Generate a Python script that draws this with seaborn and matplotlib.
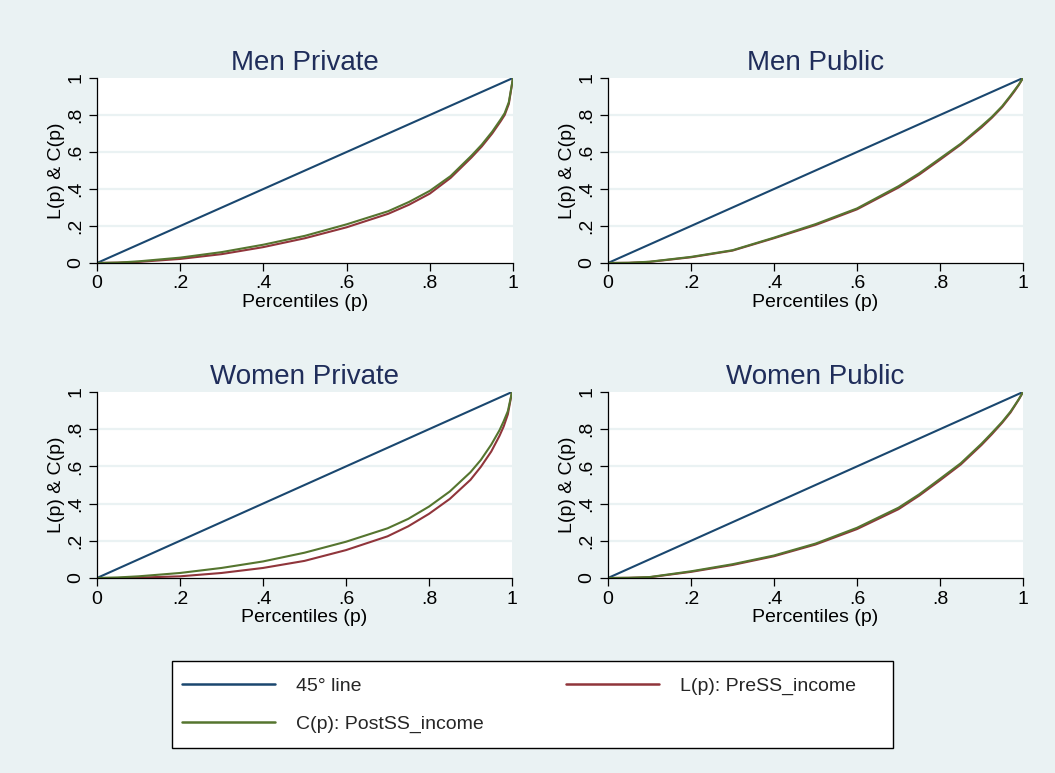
import numpy as np
import pandas as pd
import seaborn as sns
import matplotlib
matplotlib.use("Agg")
import matplotlib.pyplot as plt
from matplotlib.lines import Line2D
from matplotlib.patches import Rectangle

# Percentile grid shared by every curve
pct = [0, 0.05, 0.1, 0.2, 0.3, 0.4, 0.5, 0.6, 0.7, 0.75, 0.8, 0.85, 0.9, 0.925, 0.95, 0.97, 0.98, 0.99, 1.0]

# Lorenz curve of pre-social-security income, L(p)
men_private_pre = [0, 0.002, 0.006, 0.022, 0.048, 0.086, 0.134, 0.193, 0.266, 0.315, 0.375, 0.46, 0.57, 0.63, 0.70, 0.765, 0.80, 0.86, 1.0]
men_public_pre = [0, 0.001, 0.006, 0.031, 0.067, 0.134, 0.205, 0.29, 0.408, 0.478, 0.558, 0.64, 0.733, 0.785, 0.843, 0.90, 0.93, 0.963, 1.0]
women_private_pre = [0, 0.0, 0.002, 0.009, 0.027, 0.054, 0.092, 0.150, 0.224, 0.278, 0.345, 0.425, 0.528, 0.598, 0.68, 0.765, 0.815, 0.88, 1.0]
women_public_pre = [0, 0.001, 0.004, 0.033, 0.07, 0.117, 0.18, 0.263, 0.37, 0.443, 0.525, 0.61, 0.715, 0.773, 0.835, 0.89, 0.925, 0.96, 1.0]

# Concentration curve of post-social-security income, C(p)
men_private_post = [0, 0.002, 0.009, 0.029, 0.059, 0.099, 0.147, 0.209, 0.28, 0.33, 0.39, 0.47, 0.58, 0.64, 0.71, 0.775, 0.81, 0.87, 1.0]
men_public_post = [0, 0.001, 0.007, 0.033, 0.069, 0.137, 0.21, 0.295, 0.415, 0.485, 0.565, 0.645, 0.74, 0.79, 0.848, 0.905, 0.935, 0.965, 1.0]
women_private_post = [0, 0.003, 0.009, 0.027, 0.054, 0.089, 0.136, 0.195, 0.267, 0.318, 0.384, 0.465, 0.569, 0.635, 0.717, 0.795, 0.843, 0.897, 1.0]
women_public_post = [0, 0.001, 0.005, 0.036, 0.074, 0.121, 0.185, 0.27, 0.378, 0.45, 0.533, 0.617, 0.722, 0.78, 0.84, 0.895, 0.928, 0.962, 1.0]

# Equality line
diag_p = [0.0, 1.0]
diag_v = [0.0, 1.0]

panels = ["Men Private", "Men Public", "Women Private", "Women Public"]
pre_series = [men_private_pre, men_public_pre, women_private_pre, women_public_pre]
post_series = [men_private_post, men_public_post, women_private_post, women_public_post]

series_names = ["45° line", "L(p): PreSS_income", "C(p): PostSS_income"]
colors = {"45° line": "#1a476f", "L(p): PreSS_income": "#90353b", "C(p): PostSS_income": "#55752f"}

tick_vals = [0, 0.2, 0.4, 0.6, 0.8, 1.0]
tick_labels = ["0", ".2", ".4", ".6", ".8", "1"]

rows = []
for name, pre, post in zip(panels, pre_series, post_series):
    for p, v in zip(diag_p, diag_v):
        rows.append((name, series_names[0], p, v))
    for p, v in zip(pct, pre):
        rows.append((name, series_names[1], p, v))
    for p, v in zip(pct, post):
        rows.append((name, series_names[2], p, v))
df = pd.DataFrame(rows, columns=["panel", "series", "p", "value"])

sns.set_theme(style="white")
plt.rcParams["font.family"] = ["Liberation Sans", "DejaVu Sans"]

bg = "#eaf2f3"
W, H = 1055, 773
fig = plt.figure(figsize=(W / 100, H / 100), dpi=100, facecolor=bg)

# axes boxes in pixels: left, top, right, bottom
boxes = [(97, 78, 513, 263), (608, 78, 1023, 263),
         (97, 392, 512, 578), (608, 392, 1023, 578)]

for name, (l, t, r, b) in zip(panels, boxes):
    ax = fig.add_axes([l / W, 1 - b / H, (r - l) / W, (b - t) / H])
    ax.set_facecolor("white")
    for yv in [0.2, 0.4, 0.6, 0.8]:
        ax.axhline(yv, color=bg, lw=1.6, zorder=0.5)
    sub = df[df["panel"] == name]
    sns.lineplot(data=sub, x="p", y="value", hue="series", hue_order=series_names,
                 palette=colors, estimator=None, sort=False, legend=False,
                 linewidth=1.5, ax=ax)
    ax.set_xlim(0, 1)
    ax.set_ylim(0, 1)
    ax.set_xticks(tick_vals)
    ax.set_xticklabels(tick_labels)
    ax.set_yticks(tick_vals)
    ax.set_yticklabels(tick_labels, rotation=90, va="center")
    ax.tick_params(axis="both", direction="out", length=6, width=0.9, color="black",
                   labelsize=14, labelcolor="black", bottom=True, left=True)
    ax.tick_params(axis="x", pad=3)
    ax.tick_params(axis="y", pad=3)
    for s in ["top", "right"]:
        ax.spines[s].set_visible(False)
    for s in ["left", "bottom"]:
        ax.spines[s].set_color("black")
        ax.spines[s].set_linewidth(0.9)
    ax.set_xlabel("Percentiles (p)", fontsize=14, color="black", labelpad=1)
    ax.set_ylabel("L(p) & C(p)", fontsize=14, color="black", labelpad=2)
    ax.set_title(name, fontsize=20, color="#1f2d5a", pad=6)

# Legend box
fig.patches.append(Rectangle((172 / W, 1 - 748 / H), (893 - 172) / W, (748 - 661) / H,
                             transform=fig.transFigure, facecolor="white",
                             edgecolor="black", linewidth=1.0, zorder=1))

handles = [Line2D([], [], color=colors[s], lw=1.8) for s in series_names]
order = [0, 2, 1]
leg = fig.legend([handles[i] for i in order], [series_names[i] for i in order],
                 ncol=2, loc="upper left",
                 bbox_to_anchor=(182 / W, 1 - 677 / H),
                 fontsize=14, handlelength=4.8, handletextpad=1.05,
                 borderpad=0, labelspacing=1.05, columnspacing=4.25,
                 frameon=False, borderaxespad=0)
leg.set_zorder(2)

fig.savefig("out.png", dpi=100, facecolor=bg)
